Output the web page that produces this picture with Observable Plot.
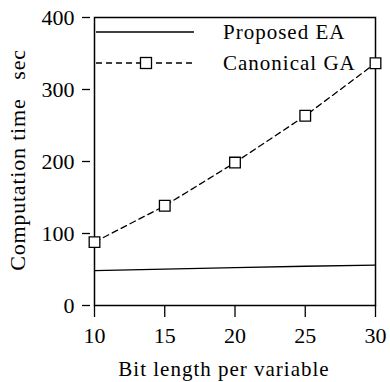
<!DOCTYPE html>
<html><head><meta charset="utf-8">
<script src="https://cdn.jsdelivr.net/npm/d3@7"></script>
<script src="https://cdn.jsdelivr.net/npm/@observablehq/plot@0.6"></script>
<style>html,body{margin:0;padding:0;background:#fff}</style>
</head><body><div id="chart"></div>
<script>
const bitLengths = [10, 15, 20, 25, 30];
const proposedEA = [48.5, 50.5, 52.5, 54.5, 56];
const canonicalGA = [88, 138.5, 198.5, 263.5, 336.5];
const xTicks = [10, 15, 20, 25, 30];
const yTicks = [0, 100, 200, 300, 400];
const seriesNames = ["Proposed EA", "Canonical GA"];
const xLabel = "Bit length per variable";
const yLabel = "Computation time   sec";

const ea = bitLengths.map((x, i) => ({x, y: proposedEA[i]}));
const ga = bitLengths.map((x, i) => ({x, y: canonicalGA[i]}));
const font = '"Liberation Serif", "DejaVu Serif", serif';

const plot = Plot.plot({
  width: 390, height: 382,
  marginLeft: 94, marginRight: 15, marginTop: 17, marginBottom: 77,
  style: {fontFamily: font, fontSize: "21px", color: "#000", background: "#fff", overflow: "visible"},
  x: {domain: [10, 30]},
  y: {domain: [0, 400]},
  marks: [
    Plot.frame({stroke: "#000", strokeWidth: 1.5}),
    Plot.axisX({ticks: xTicks, tickSize: 12, tickPadding: 10, tickFormat: d => String(d), label: null, strokeWidth: 1.3, fontSize: 22, letterSpacing: 1.5}),
    Plot.axisY({ticks: yTicks, tickSize: 8, dx: -4, tickPadding: 8, tickFormat: d => String(d), label: null, strokeWidth: 1.3, fontSize: 22, letterSpacing: 1.5}),
    Plot.line(ea, {x: "x", y: "y", stroke: "#000", strokeWidth: 1.3}),
    Plot.line(ga, {x: "x", y: "y", stroke: "#000", strokeWidth: 1.3, strokeDasharray: "6,4"}),
    Plot.dot(ga, {x: "x", y: "y", symbol: "square", r: 6, fill: "#fff", stroke: "#000", strokeWidth: 1.3})
  ]
});
document.getElementById("chart").appendChild(plot);

const svg = d3.select(plot);
// axis labels
svg.append("text").text(xLabel)
  .attr("x", 224).attr("y", 376).attr("text-anchor", "middle")
  .attr("font-family", font).attr("font-size", 21).attr("letter-spacing", 1).attr("fill", "#000");
svg.append("text").text(yLabel)
  .attr("transform", "translate(25,160) rotate(-90)").attr("text-anchor", "middle")
  .style("white-space", "pre")
  .attr("font-family", font).attr("font-size", 22).attr("letter-spacing", 0.8).attr("fill", "#000");

// legend
const lg = svg.append("g").attr("font-family", font).attr("font-size", 21).attr("letter-spacing", 1)
  .attr("fill", "#000").attr("text-anchor", "start");
const rows = [
  {name: seriesNames[0], y: 32, dash: null, marker: false},
  {name: seriesNames[1], y: 63, dash: "6,4", marker: true}
];
rows.forEach(r => {
  lg.append("line").attr("x1", 96).attr("x2", 194).attr("y1", r.y).attr("y2", r.y)
    .attr("stroke", "#000").attr("stroke-width", 1.3).attr("stroke-dasharray", r.dash);
  if (r.marker) {
    lg.append("rect").attr("x", 140.5).attr("y", r.y - 5.5).attr("width", 11).attr("height", 11)
      .attr("fill", "#fff").attr("stroke", "#000").attr("stroke-width", 1.3);
  }
  lg.append("text").text(r.name).attr("x", 223).attr("y", r.y + 7).attr("text-anchor", "start");
});
</script>
</body></html>
